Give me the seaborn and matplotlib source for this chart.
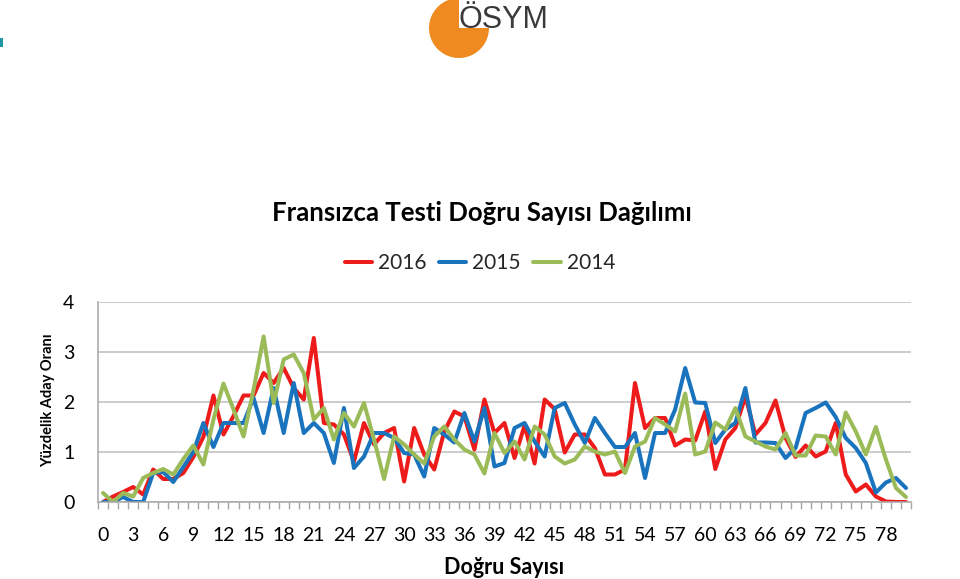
import numpy as np
import pandas as pd
import matplotlib
matplotlib.use("Agg")
import matplotlib.pyplot as plt
import seaborn as sns
from matplotlib.patches import Wedge, Rectangle
from matplotlib.lines import Line2D

# ---------------- data ----------------
correct_counts = list(range(81))
years = ["2016", "2015", "2014"]
y2016 = [0, 0.11, 0.2, 0.3, 0.15, 0.65, 0.46, 0.46, 0.58, 0.9,
         1.3, 2.13, 1.35, 1.72, 2.13, 2.13, 2.58, 2.38, 2.68, 2.28,
         2.05, 3.28, 1.58, 1.55, 1.35, 0.81, 1.58, 1.15, 1.38, 1.48,
         0.41, 1.48, 0.95, 0.65, 1.41, 1.81, 1.71, 1.05, 2.05, 1.38,
         1.58, 0.88, 1.53, 0.77, 2.05, 1.86, 0.99, 1.35, 1.35, 1.08,
         0.55, 0.55, 0.65, 2.38, 1.48, 1.68, 1.68, 1.13, 1.25, 1.23,
         1.81, 0.66, 1.25, 1.48, 2.11, 1.35, 1.58, 2.03, 1.28, 0.9,
         1.13, 0.91, 1.01, 1.58, 0.55, 0.21, 0.35, 0.11, 0.01, 0, 0]
y2015 = [0, 0, 0.1, 0, 0, 0.58, 0.6, 0.4, 0.7, 1.0,
         1.58, 1.1, 1.58, 1.58, 1.58, 2.08, 1.38, 2.28, 1.38, 2.38,
         1.38, 1.58, 1.38, 0.78, 1.88, 0.68, 0.91, 1.38, 1.38, 1.28,
         0.98, 0.95, 0.51, 1.48, 1.35, 1.19, 1.78, 1.21, 1.88, 0.71,
         0.78, 1.48, 1.58, 1.21, 0.91, 1.88, 1.98, 1.55, 1.18, 1.68,
         1.38, 1.1, 1.1, 1.38, 0.48, 1.38, 1.38, 1.85, 2.68, 1.99,
         1.98, 1.18, 1.45, 1.58, 2.28, 1.19, 1.19, 1.18, 0.88, 1.08,
         1.78, 1.88, 1.99, 1.7, 1.28, 1.08, 0.78, 0.19, 0.39, 0.48, 0.28]
y2014 = [0.18, 0, 0.18, 0.11, 0.48, 0.58, 0.66, 0.55, 0.86, 1.13,
         0.75, 1.65, 2.37, 1.85, 1.31, 2.25, 3.31, 1.98, 2.85, 2.95,
         2.58, 1.65, 1.88, 1.25, 1.78, 1.51, 1.98, 1.25, 0.46, 1.31,
         1.15, 0.95, 0.77, 1.31, 1.51, 1.25, 1.05, 0.95, 0.57, 1.38,
         0.98, 1.21, 0.85, 1.51, 1.35, 0.91, 0.77, 0.85, 1.11, 1.01,
         0.95, 1.01, 0.58, 1.11, 1.21, 1.68, 1.55, 1.41, 2.17, 0.95,
         1.01, 1.59, 1.45, 1.88, 1.31, 1.21, 1.11, 1.05, 1.38, 0.93,
         0.93, 1.33, 1.31, 0.95, 1.79, 1.41, 0.95, 1.5, 0.85, 0.28, 0.1]
xtick_values = list(range(0, 79, 3))
ytick_values = [0, 1, 2, 3, 4]

title = "Fransızca Testi Doğru Sayısı Dağılımı"
xlabel = "Doğru Sayısı"
ylabel = "Yüzdelik Aday Oranı"

colors = ["#EE1B1B", "#1A73BD", "#9BBB59"]

# ---------------- style ----------------
sns.set_theme(style="white")
plt.rcParams["font.family"] = ["Lato", "DejaVu Sans"]

W, H = 960, 579
fig = plt.figure(figsize=(W / 100, H / 100), dpi=100)

# ---------------- decoration (logo) ----------------
deco = fig.add_axes([0, 0, 1, 1], zorder=0)
deco.set_xlim(0, W)
deco.set_ylim(H, 0)
deco.axis("off")
deco.add_patch(Rectangle((0, 38), 3, 9, color="#1F98A4", lw=0, zorder=2))
deco.add_patch(Wedge((459, 28), 30, 0, 270, color="#EE8A1F", lw=0, zorder=3))
deco.text(459, 28, "ÖSYM", ha="left", va="baseline", fontsize=22,
          family=["Liberation Sans", "DejaVu Sans"], color="#3A3A3A", zorder=4)

# ---------------- chart ----------------
ax = fig.add_axes([98 / W, 1 - 502 / H, 813 / W, 200 / H], zorder=2)
ax.patch.set_alpha(0)

df = pd.DataFrame({
    "x": correct_counts * 3,
    "value": y2016 + y2015 + y2014,
    "year": [years[0]] * 81 + [years[1]] * 81 + [years[2]] * 81,
})
sns.lineplot(data=df, x="x", y="value", hue="year", hue_order=years,
             palette=colors, linewidth=2.9, errorbar=None, legend=False, ax=ax)

ax.set_xlim(-0.5, 80.5)
ax.set_ylim(0, 4)
ax.set_xticks(xtick_values)
ax.set_xticklabels([str(v) for v in xtick_values])
ax.set_xticks(np.arange(-0.5, 81, 1), minor=True)
ax.set_yticks(ytick_values)
ax.set_yticklabels([str(v) for v in ytick_values])
ax.tick_params(axis="x", which="major", length=0, pad=18, labelsize=14, labelcolor="#000000")
ax.tick_params(axis="x", which="minor", length=5, width=1, color="#A6A6A6", bottom=True)
ax.tick_params(axis="y", length=0, pad=17, labelsize=14, labelcolor="#000000")
ax.yaxis.grid(True, color="#BEBEBE", lw=1.1)
ax.xaxis.grid(False)
ax.set_axisbelow(True)
for s in ["top", "right"]:
    ax.spines[s].set_visible(False)
for s in ["left", "bottom"]:
    ax.spines[s].set_color("#A6A6A6")
    ax.spines[s].set_linewidth(1.1)
ax.set_xlabel("")
ax.set_ylabel("")

# titles
fig.text(482 / W, 1 - 213 / H, title, ha="center", va="center",
         fontsize=18.5, fontweight="bold", color="#000000")
fig.text(504.5 / W, 1 - 567 / H, xlabel, ha="center", va="center",
         fontsize=15.5, fontweight="bold", color="#000000")
fig.text(48 / W, 1 - 400 / H, ylabel, ha="center", va="center", rotation=90,
         fontsize=10.5, fontweight="bold", color="#000000")

handles = [Line2D([], [], color=c, lw=2.9) for c in colors]
fig.legend(handles=handles, labels=years, loc="center", bbox_to_anchor=(480 / W, 1 - 263 / H),
           ncol=3, frameon=False, fontsize=15, handlelength=1.3, handletextpad=0.3,
           columnspacing=0.6)

fig.savefig("out.png", dpi=100)
